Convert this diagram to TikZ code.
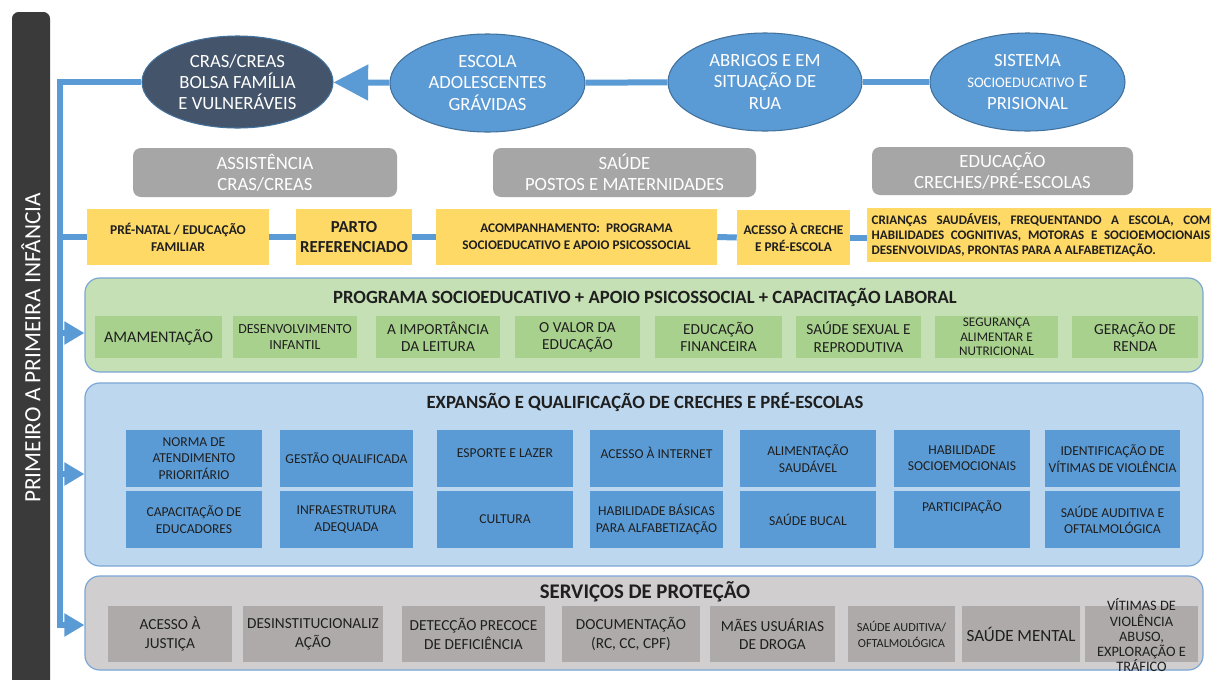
\documentclass[tikz,border=0pt]{standalone}
\usepackage{fontspec}
\setmainfont{Carlito}
\usetikzlibrary{shapes.geometric,arrows.meta}

\definecolor{barDark}{HTML}{3A3A3A}
\definecolor{flowBlue}{HTML}{5B9BD5}
\definecolor{navy}{HTML}{44546A}
\definecolor{ellBlue}{HTML}{5B9BD5}
\definecolor{ellEdge}{HTML}{41719C}
\definecolor{hdrGray}{HTML}{A6A6A6}
\definecolor{gold}{HTML}{FFD966}
\definecolor{greenPanel}{HTML}{C5E0B4}
\definecolor{greenItem}{HTML}{A9D18E}
\definecolor{bluePanel}{HTML}{BDD7EE}
\definecolor{blueItem}{HTML}{5B9BD5}
\definecolor{grayPanel}{HTML}{D0CECE}
\definecolor{grayItem}{HTML}{AEAAAA}
\definecolor{panelEdge}{HTML}{7BA6D6}
\definecolor{ink}{HTML}{1F1F1F}

% box from its corners (x1,y1)-(x2,y2), in pixel units
\newcommand\bx[7]{\node[#6, minimum width={(#4-#2)*0.75pt}, minimum height={(#5-#3)*0.75pt}] (#1) at ({(#2+#4)/2},{(#3+#5)/2}) {#7};}

\tikzset{
  ell/.style={ellipse, inner sep=0pt, draw=ellEdge, line width=0.8pt, text=white, align=center,
    font=\fontsize{14}{16}\selectfont},
  hdr/.style={rectangle, rounded corners=6pt, fill=hdrGray, text=white, align=center, inner sep=0pt,
    font=\fontsize{14}{15.5}\selectfont},
  ybox/.style={rectangle, fill=gold, text=ink, align=center, inner sep=0pt,
    font=\bfseries\fontsize{10.1}{12.8}\selectfont},
  panel/.style={rectangle, rounded corners=11pt, draw=panelEdge, line width=0.9pt, inner sep=0pt},
  ptitle/.style={text=ink, inner sep=0pt, font=\bfseries\fontsize{14}{16}\selectfont},
  gitem/.style={rectangle, fill=greenItem, text=ink, align=center, inner sep=0pt,
    font=\fontsize{11.5}{13}\selectfont},
  bitem/.style={rectangle, fill=blueItem, text=ink, align=center, inner sep=0pt,
    font=\fontsize{10.2}{12.2}\selectfont},
  pitem/.style={rectangle, fill=grayItem, text=ink, align=center, inner sep=0pt,
    font=\fontsize{11.5}{14}\selectfont},
  itxt/.style={text=ink, align=center, inner sep=0pt},
  flow/.style={draw=flowBlue, line width=4.5pt},
  tip/.style={-{Triangle[length=15pt,width=16.5pt]}},
  bigtip/.style={-{Triangle[length=26pt,width=26pt]}}
}

\begin{document}
\begin{tikzpicture}[x=0.75pt,y=-0.75pt]
\clip (0,0) rectangle (1211,679);
\fill[white] (0,0) rectangle (1211,679);

% side bar with the programme name
\fill[barDark, rounded corners=5pt] (12,700) -- (12,12) -- (50,12) -- (50,700);
\node[rotate=90, text=white, inner sep=0pt, font=\fontsize{17.5}{19}\selectfont] (barT) at (31,348) {PRIMEIRO A PRIMEIRA INFÂNCIA};

% target groups
\bx{cras}{142}{36}{333}{128}{ell, fill=navy}{CRAS/CREAS\\BOLSA FAMÍLIA\\E VULNERÁVEIS}
\bx{escola}{390}{34}{585}{132}{ell, fill=ellBlue}{ESCOLA\\ADOLESCENTES\\GRÁVIDAS}
\bx{abrigos}{668}{33}{862}{131}{ell, fill=ellBlue}{ABRIGOS E EM\\SITUAÇÃO DE\\RUA}
\bx{sistema}{930}{33}{1125}{131}{ell, fill=ellBlue}{SISTEMA\\{\fontsize{11}{16}\selectfont SOCIOEDUCATIVO} E\\PRISIONAL}

% sectors
\bx{assist}{133}{148}{397}{197}{hdr}{ASSISTÊNCIA\\CRAS/CREAS}
\bx{saude}{493}{148}{756}{197}{hdr}{SAÚDE\\POSTOS E MATERNIDADES}
\bx{educ}{872}{147}{1133}{195}{hdr}{EDUCAÇÃO\\CRECHES/PRÉ-ESCOLAS}

% care pathway
\bx{pren}{87}{209}{269}{265}{ybox}{PRÉ-NATAL / EDUCAÇÃO\\FAMILIAR}
\bx{parto}{296}{209}{412}{265}{ybox, font=\bfseries\fontsize{12.6}{14.5}\selectfont}{PARTO\\REFERENCIADO}
\bx{acomp}{436}{209}{717}{265}{ybox, font=\bfseries\fontsize{9.9}{12.5}\selectfont}{ACOMPANHAMENTO:~~PROGRAMA\\SOCIOEDUCATIVO E APOIO PSICOSSOCIAL}
\bx{acesso}{737}{210}{850}{265}{ybox, font=\bfseries\fontsize{10}{13}\selectfont}{ACESSO À CRECHE\\E PRÉ-ESCOLA}
\bx{crianc}{867}{208}{1215}{262}{ybox, text width=254pt, align=justify, font=\bfseries\fontsize{9.8}{11.4}\selectfont}{CRIANÇAS SAUDÁVEIS, FREQUENTANDO A ESCOLA, COM\linebreak HABILIDADES COGNITIVAS, MOTORAS E SOCIOEMOCIONAIS\linebreak DESENVOLVIDAS, PRONTAS PARA A ALFABETIZAÇÃO.}

% socio-educational programme
\bx{prog}{85}{278}{1203}{372}{panel, fill=greenPanel}{}
\node[ptitle] (progT) at (645,297) {PROGRAMA SOCIOEDUCATIVO + APOIO PSICOSSOCIAL + CAPACITAÇÃO LABORAL};
\bx{g1}{95}{316}{222}{358}{gitem, font=\fontsize{12.1}{13}\selectfont}{AMAMENTAÇÃO}
\bx{g2}{233}{316}{357}{358}{gitem, font=\fontsize{10.4}{12.5}\selectfont}{DESENVOLVIMENTO\\INFANTIL}
\bx{g3}{376}{316}{500}{358}{gitem}{A IMPORTÂNCIA\\DA LEITURA}
\bx{g4}{515}{316}{640}{358}{gitem}{O VALOR DA\\EDUCAÇÃO}
\bx{g5}{655}{316}{782}{358}{gitem}{EDUCAÇÃO\\FINANCEIRA}
\bx{g6}{796}{316}{921}{358}{gitem}{SAÚDE SEXUAL E\\REPRODUTIVA}
\bx{g7}{935}{316}{1058}{358}{gitem}{}
\node[itxt, font=\fontsize{9.9}{11}\selectfont] (g7t) at (g7.center) {SEGURANÇA\\ALIMENTAR E\\NUTRICIONAL};
\bx{g8}{1072}{316}{1198}{358}{gitem}{GERAÇÃO DE\\RENDA}

% day-care expansion
\bx{expan}{85}{383}{1203}{566}{panel, fill=bluePanel}{}
\node[ptitle] (expanT) at (645,402) {EXPANSÃO E QUALIFICAÇÃO DE CRECHES E PRÉ-ESCOLAS};
\bx{b1}{126}{430}{262}{487}{bitem}{NORMA DE\\ATENDIMENTO\\PRIORITÁRIO}
\bx{b2}{280}{430}{413}{487}{bitem}{GESTÃO QUALIFICADA}
\bx{b3}{437}{430}{573}{487}{bitem}{}
\node[itxt, font=\fontsize{10.2}{12}\selectfont] (b3t) at ([yshift=4pt]b3.center) {ESPORTE E LAZER};
\bx{b4}{590}{430}{723}{487}{bitem}{}
\node[itxt, font=\fontsize{10.2}{12}\selectfont] (b4t) at ([yshift=4pt]b4.center) {ACESSO À INTERNET};
\bx{b5}{740}{430}{876}{487}{bitem}{ALIMENTAÇÃO\\SAUDÁVEL}
\bx{b6}{894}{430}{1030}{487}{bitem}{HABILIDADE\\SOCIOEMOCIONAIS}
\bx{b7}{1045}{430}{1180}{487}{bitem}{IDENTIFICAÇÃO DE\\VÍTIMAS DE VIOLÊNCIA}
\bx{b8}{126}{491}{262}{548}{bitem}{CAPACITAÇÃO DE\\EDUCADORES}
\bx{b9}{280}{491}{413}{548}{bitem}{INFRAESTRUTURA\\ADEQUADA}
\bx{b10}{437}{491}{573}{548}{bitem}{CULTURA}
\bx{b11}{590}{491}{723}{548}{bitem}{HABILIDADE BÁSICAS\\PARA ALFABETIZAÇÃO}
\bx{b12}{740}{491}{876}{548}{bitem}{SAÚDE BUCAL}
\bx{b13}{894}{491}{1030}{548}{bitem}{}
\node[itxt, font=\fontsize{10.2}{12}\selectfont] (b13t) at ([yshift=9pt]b13.center) {PARTICIPAÇÃO};
\bx{b14}{1045}{491}{1180}{548}{bitem}{SAÚDE AUDITIVA E\\OFTALMOLÓGICA}

% protection services
\bx{prot}{85}{576}{1203}{670}{panel, fill=grayPanel}{}
\node[ptitle, font=\bfseries\fontsize{15.6}{17}\selectfont] (protT) at (645,592) {SERVIÇOS DE PROTEÇÃO};
\bx{p1}{108}{606}{232}{662}{pitem}{ACESSO À\\JUSTIÇA}
\bx{p2}{243}{606}{383}{662}{pitem}{DESINSTITUCIONALIZ\\AÇÃO}
\bx{p3}{402}{606}{545}{662}{pitem}{DETECÇÃO PRECOCE\\DE DEFICIÊNCIA}
\bx{p4}{562}{606}{700}{662}{pitem}{DOCUMENTAÇÃO\\(RC, CC, CPF)}
\bx{p5}{710}{606}{835}{662}{pitem}{MÃES USUÁRIAS\\DE DROGA}
\bx{p6}{848}{606}{955}{662}{pitem, font=\fontsize{9.2}{12}\selectfont}{SAÚDE AUDITIVA/\\OFTALMOLÓGICA}
\bx{p7}{962}{606}{1080}{662}{pitem, font=\fontsize{12.8}{14}\selectfont}{SAÚDE MENTAL}
\bx{p8}{1085}{606}{1198}{662}{pitem}{}
\node[itxt, font=\fontsize{10.8}{11.4}\selectfont] (p8t) at ([yshift=-1pt]p8.center) {VÍTIMAS DE\\VIOLÊNCIA\\ABUSO,\\EXPLORAÇÃO E\\TRÁFICO};

% flow between target groups and down the spine
\draw[flow] (sistema) -- (abrigos);
\draw[flow] (abrigos) -- (escola);
\draw[flow, bigtip] (escola) -- (cras);
\coordinate (spTop) at (60,82);
\coordinate (spBot) at (60,625);
\coordinate (spY) at (60,237);
\coordinate (spG) at (60,333);
\coordinate (spB) at (60,474);
\draw[flow, tip] (cras.west) -- (spTop) -- (spBot) -- (spBot -| prot.west);
\draw[flow, tip] (spG) -- (spG -| prog.west);
\draw[flow, tip] (spB) -- (spB -| expan.west);

% pathway connectors
\draw[flow] (spY) -- (spY -| pren.west);
\draw[flow] (pren.east) -- (parto.west);
\draw[flow] (parto.east) -- (acomp.west);
\draw[flow] (acomp.east) -- (acesso.west);
\draw[flow] (acesso.east) -- (acesso.east -| crianc.west);
\end{tikzpicture}
\end{document}
